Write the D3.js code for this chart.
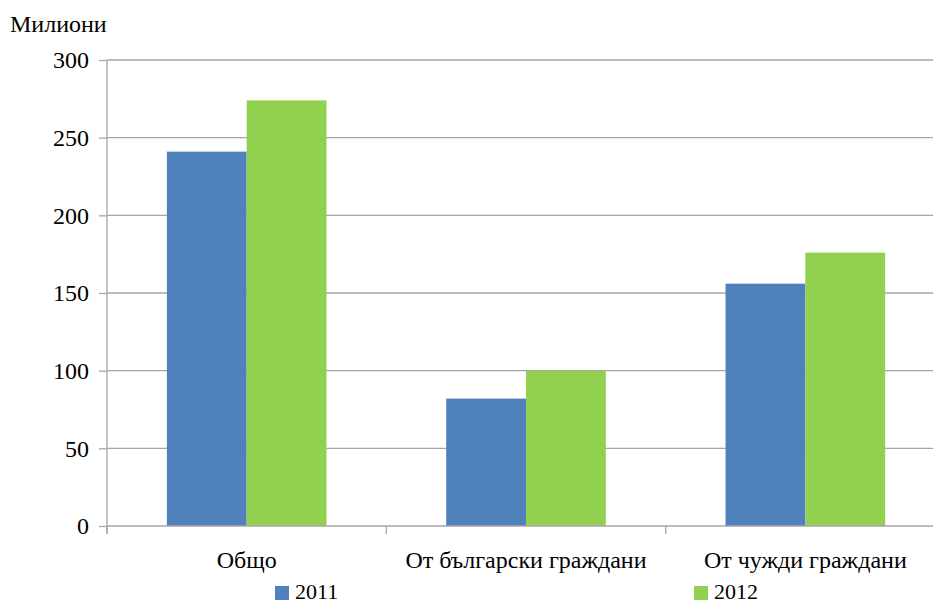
<!DOCTYPE html>
<html lang="bg">
<head>
<meta charset="utf-8">
<title>Милиони</title>
<script src="https://cdn.jsdelivr.net/npm/d3@7"></script>
<style>
	body { margin: 0; background: #fff; }
	svg text { font-family: "Liberation Serif", "Times New Roman", serif; fill: #000; }
</style>
</head>
<body>
<script>

var categories = ["Общо", "От български граждани", "От чужди граждани"];
var years = ["2011", "2012"];
var values2011 = [241, 82, 156];
var values2012 = [274, 100, 176];
var yTicks = [0, 50, 100, 150, 200, 250, 300];
var colors = ["#4f81bd", "#92d050"];

var w = 933, h = 604;
var plotLeft = 107, plotRight = 945, plotTop = 60, plotBottom = 526;

var svg = d3.select("body").append("svg")
	.attr("width", w)
	.attr("height", h);

var x = d3.scaleBand().domain(categories).range([plotLeft, plotRight]);
var xInner = d3.scaleBand().domain(years)
	.range([0, x.bandwidth()])
	.paddingOuter(0.75);
var y = d3.scaleLinear().domain([0, 300]).range([plotBottom, plotTop]);

// gridlines
svg.selectAll("line.grid")
	.data(yTicks.filter(function(d){ return d > 0; }))
	.enter().append("line")
	.attr("x1", plotLeft).attr("x2", w)
	.attr("y1", function(d){ return y(d); })
	.attr("y2", function(d){ return y(d); })
	.attr("stroke", "#a6a6a6")
	.attr("stroke-width", 1.3);

// bars
var series = [values2011, values2012];
var groups = svg.selectAll("g.series")
	.data(series)
	.enter().append("g")
	.attr("fill", function(d, i){ return colors[i]; });

groups.selectAll("rect")
	.data(function(d, i){
		return d.map(function(v, j){ return {cat: categories[j], year: years[i], v: v}; });
	})
	.enter().append("rect")
	.attr("x", function(d){ return x(d.cat) + xInner(d.year); })
	.attr("width", xInner.bandwidth())
	.attr("y", function(d){ return y(d.v); })
	.attr("height", function(d){ return plotBottom - y(d.v); });

// y axis
var yAxis = d3.axisLeft(y).tickValues(yTicks).tickSize(8).tickPadding(10);
var ya = svg.append("g")
	.attr("transform", "translate(" + plotLeft + ",0)")
	.call(yAxis);
ya.select(".domain").attr("stroke", "#a6a6a6").attr("stroke-width", 1.3)
	.attr("d", "M0," + plotTop + "V" + (plotBottom + 8));
ya.selectAll(".tick line").attr("stroke", "#a6a6a6").attr("stroke-width", 1.3);
ya.selectAll(".tick text").attr("font-size", "24px")
	.attr("font-family", "Liberation Serif");

// x axis
var xa = svg.append("g")
	.attr("transform", "translate(0," + plotBottom + ")");
xa.append("line")
	.attr("x1", plotLeft).attr("x2", w)
	.attr("stroke", "#a6a6a6").attr("stroke-width", 1.3);
xa.selectAll("line.tick")
	.data(categories)
	.enter().append("line")
	.attr("x1", function(d){ return x(d); })
	.attr("x2", function(d){ return x(d); })
	.attr("y1", 0).attr("y2", 8)
	.attr("stroke", "#a6a6a6").attr("stroke-width", 1.3);
xa.selectAll("text")
	.data(categories)
	.enter().append("text")
	.attr("x", function(d){ return x(d) + x.bandwidth() / 2; })
	.attr("y", 42)
	.attr("text-anchor", "middle")
	.attr("font-size", "24px")
	.text(function(d){ return d; });

// axis title
svg.append("text")
	.attr("x", 10).attr("y", 32)
	.attr("font-size", "24px")
	.text("Милиони");

// legend
var legendX = [275, 694];
var legend = svg.selectAll("g.legend")
	.data(years)
	.enter().append("g")
	.attr("transform", function(d, i){ return "translate(" + legendX[i] + ",586)"; });
legend.append("rect")
	.attr("width", 14).attr("height", 14)
	.attr("fill", function(d, i){ return colors[i]; });
legend.append("text")
	.attr("x", 20).attr("y", 13)
	.attr("font-size", "22px")
	.text(function(d){ return d; });

</script>
</body>
</html>
